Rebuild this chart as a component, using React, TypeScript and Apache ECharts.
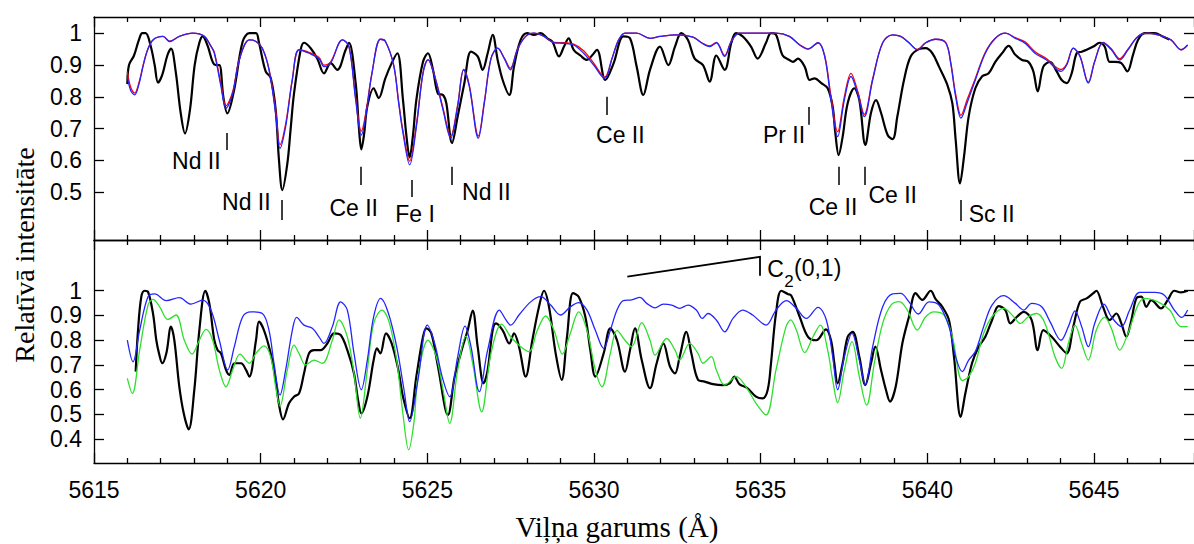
import React, { useEffect, useRef } from "react";
import * as echarts from "echarts";

// ---------- data (wavelength Å, relative intensity) ----------
const topObserved: number[][] = [
  [5616.0,0.84],[5616.05,0.9],[5616.2,0.93],[5616.35,0.98],[5616.45,1.0],[5616.55,1.0],[5616.7,0.96],[5616.82,0.9],[5616.92,0.845],[5617.05,0.87],[5617.2,0.93],[5617.31,0.952],[5617.45,0.88],[5617.6,0.75],[5617.73,0.685],[5617.88,0.76],[5618.02,0.9],[5618.16,0.97],[5618.26,0.99],[5618.41,0.96],[5618.56,0.91],[5618.66,0.9],[5618.76,0.9],[5618.88,0.8],[5619.0,0.748],[5619.2,0.82],[5619.46,0.974],[5619.66,1.0],[5619.86,1.0],[5619.95,0.97],[5620.15,0.88],[5620.3,0.86],[5620.45,0.76],[5620.55,0.6],[5620.65,0.507],[5620.8,0.59],[5620.9,0.7],[5621.0,0.81],[5621.2,0.948],[5621.3,0.97],[5621.5,0.953],[5621.7,0.92],[5621.9,0.874],[5622.1,0.906],[5622.3,0.885],[5622.55,0.948],[5622.65,0.97],[5622.85,0.843],[5622.95,0.7],[5623.02,0.635],[5623.1,0.68],[5623.2,0.77],[5623.39,0.827],[5623.54,0.796],[5623.74,0.858],[5623.93,0.906],[5624.1,0.937],[5624.27,0.79],[5624.37,0.68],[5624.47,0.61],[5624.57,0.68],[5624.67,0.79],[5624.87,0.91],[5625.02,0.937],[5625.17,0.885],[5625.32,0.81],[5625.47,0.806],[5625.57,0.78],[5625.74,0.655],[5625.91,0.738],[5626.11,0.843],[5626.31,0.942],[5626.51,0.927],[5626.66,0.885],[5626.81,0.937],[5626.96,0.995],[5627.11,0.916],[5627.26,0.853],[5627.46,0.806],[5627.6,0.895],[5627.8,0.979],[5628.0,1.0],[5628.2,0.995],[5628.4,1.0],[5628.6,0.984],[5628.75,0.974],[5628.95,0.927],[5629.1,0.958],[5629.24,0.984],[5629.39,0.948],[5629.59,0.93],[5629.79,0.916],[5629.94,0.93],[5630.09,0.948],[5630.34,0.853],[5630.59,0.906],[5630.88,0.99],[5631.08,0.984],[5631.28,0.895],[5631.48,0.806],[5631.68,0.885],[5631.98,0.958],[5632.23,0.9],[5632.43,0.958],[5632.62,1.0],[5632.82,0.979],[5633.02,0.92],[5633.27,0.9],[5633.47,0.848],[5633.67,0.93],[5633.92,0.885],[5634.12,0.97],[5634.26,1.0],[5634.46,0.99],[5634.71,0.958],[5634.91,0.92],[5635.16,0.97],[5635.31,1.0],[5635.46,0.995],[5635.66,0.93],[5635.86,0.916],[5635.97,0.91],[5636.12,0.92],[5636.32,0.895],[5636.47,0.853],[5636.62,0.858],[5636.82,0.843],[5637.01,0.827],[5637.16,0.77],[5637.24,0.686],[5637.34,0.617],[5637.46,0.675],[5637.61,0.78],[5637.81,0.827],[5637.96,0.79],[5638.14,0.649],[5638.31,0.75],[5638.46,0.79],[5638.61,0.75],[5638.81,0.68],[5638.96,0.667],[5639.1,0.738],[5639.3,0.853],[5639.5,0.927],[5639.75,0.95],[5639.95,0.953],[5640.15,0.937],[5640.35,0.895],[5640.6,0.838],[5640.75,0.78],[5640.85,0.665],[5640.98,0.528],[5641.1,0.612],[5641.24,0.738],[5641.44,0.827],[5641.64,0.864],[5641.84,0.874],[5642.04,0.91],[5642.24,0.937],[5642.44,0.96],[5642.64,0.932],[5642.84,0.916],[5643.03,0.91],[5643.18,0.88],[5643.31,0.817],[5643.48,0.895],[5643.68,0.91],[5643.88,0.88],[5644.03,0.853],[5644.18,0.843],[5644.33,0.874],[5644.48,0.937],[5644.63,0.942],[5644.78,0.948],[5644.98,0.958],[5645.17,0.97],[5645.32,0.958],[5645.47,0.91],[5645.62,0.91],[5645.82,0.906],[5646.0,0.88],[5646.17,0.932],[5646.32,0.979],[5646.52,1.0],[5646.82,1.0],[5647.06,0.99],[5647.26,0.98]
];

const topBlue: number[][] = [
  [5616.0,0.864],[5616.1,0.82],[5616.22,0.806],[5616.35,0.84],[5616.47,0.895],[5616.6,0.945],[5616.77,0.979],[5617.07,0.99],[5617.27,0.974],[5617.56,0.99],[5617.96,1.0],[5618.31,0.99],[5618.5,0.96],[5618.61,0.937],[5618.81,0.832],[5618.96,0.764],[5619.16,0.81],[5619.36,0.916],[5619.66,0.979],[5619.86,0.974],[5620.05,0.953],[5620.25,0.885],[5620.45,0.748],[5620.58,0.638],[5620.75,0.707],[5620.95,0.853],[5621.15,0.948],[5621.45,0.937],[5621.75,0.92],[5621.9,0.895],[5622.1,0.906],[5622.45,0.979],[5622.65,0.958],[5622.85,0.79],[5623.02,0.68],[5623.14,0.73],[5623.34,0.874],[5623.59,0.981],[5623.74,0.975],[5623.99,0.9],[5624.14,0.78],[5624.27,0.686],[5624.47,0.586],[5624.67,0.705],[5624.87,0.873],[5625.02,0.916],[5625.22,0.864],[5625.47,0.759],[5625.7,0.67],[5625.91,0.77],[5626.09,0.885],[5626.26,0.832],[5626.53,0.67],[5626.71,0.78],[5626.91,0.92],[5627.11,0.953],[5627.31,0.92],[5627.49,0.885],[5627.7,0.948],[5627.95,0.99],[5628.2,1.0],[5628.5,0.99],[5628.8,0.97],[5629.1,0.968],[5629.39,0.963],[5629.69,0.937],[5629.99,0.9],[5630.32,0.858],[5630.54,0.92],[5630.74,0.979],[5630.93,1.0],[5631.28,1.0],[5631.68,0.984],[5631.98,0.99],[5632.48,0.995],[5632.97,0.988],[5633.22,0.97],[5633.47,0.958],[5633.67,0.97],[5633.92,0.927],[5634.12,0.974],[5634.37,1.0],[5635.46,1.0],[5635.86,0.99],[5636.17,0.963],[5636.42,0.95],[5636.72,0.97],[5636.92,0.927],[5637.11,0.79],[5637.31,0.675],[5637.51,0.79],[5637.71,0.864],[5637.91,0.81],[5638.11,0.738],[5638.36,0.853],[5638.66,0.97],[5638.96,0.995],[5639.2,0.99],[5639.45,0.97],[5639.7,0.948],[5639.95,0.97],[5640.25,0.981],[5640.55,0.97],[5640.7,0.906],[5640.85,0.8],[5641.01,0.733],[5641.19,0.78],[5641.44,0.853],[5641.74,0.937],[5642.04,0.984],[5642.34,1.0],[5642.64,0.984],[5642.94,0.968],[5643.23,0.937],[5643.58,0.916],[5644.01,0.88],[5644.18,0.9],[5644.38,0.953],[5644.58,0.927],[5644.83,0.843],[5645.02,0.91],[5645.27,0.97],[5645.52,0.948],[5645.77,0.916],[5646.02,0.948],[5646.32,0.99],[5646.62,1.0],[5646.92,0.995],[5647.31,0.979],[5647.61,0.948],[5647.81,0.963]
];

const topRed: number[][] = [
  [5616.0,0.88],[5616.1,0.83],[5616.22,0.812],[5616.35,0.845],[5616.47,0.898],[5616.6,0.946],[5616.77,0.979],[5617.07,0.99],[5617.27,0.975],[5617.56,0.99],[5617.96,1.0],[5618.31,0.99],[5618.5,0.961],[5618.61,0.94],[5618.81,0.84],[5618.96,0.772],[5619.16,0.816],[5619.36,0.918],[5619.66,0.979],[5619.86,0.974],[5620.05,0.953],[5620.25,0.888],[5620.45,0.758],[5620.58,0.65],[5620.75,0.715],[5620.95,0.856],[5621.15,0.948],[5621.45,0.94],[5621.75,0.924],[5621.9,0.9],[5622.1,0.91],[5622.45,0.979],[5622.65,0.958],[5622.85,0.797],[5623.02,0.692],[5623.14,0.74],[5623.34,0.876],[5623.59,0.981],[5623.74,0.975],[5623.99,0.9],[5624.14,0.785],[5624.27,0.693],[5624.47,0.598],[5624.67,0.712],[5624.87,0.876],[5625.02,0.917],[5625.22,0.866],[5625.47,0.765],[5625.7,0.677],[5625.91,0.775],[5626.09,0.886],[5626.26,0.836],[5626.53,0.677],[5626.71,0.785],[5626.91,0.921],[5627.11,0.953],[5627.31,0.922],[5627.49,0.89],[5627.7,0.949],[5627.95,0.99],[5628.2,1.0],[5628.5,0.99],[5628.8,0.971],[5629.1,0.97],[5629.39,0.966],[5629.69,0.945],[5629.99,0.906],[5630.32,0.862],[5630.54,0.921],[5630.74,0.979],[5630.93,1.0],[5631.28,1.0],[5631.68,0.984],[5631.98,0.99],[5632.48,0.995],[5632.97,0.988],[5633.22,0.971],[5633.47,0.96],[5633.67,0.971],[5633.92,0.93],[5634.12,0.975],[5634.37,1.0],[5635.46,1.0],[5635.86,0.99],[5636.17,0.964],[5636.42,0.951],[5636.72,0.97],[5636.92,0.93],[5637.11,0.802],[5637.31,0.69],[5637.51,0.8],[5637.71,0.874],[5637.91,0.818],[5638.11,0.745],[5638.36,0.857],[5638.66,0.97],[5638.96,0.995],[5639.2,0.99],[5639.45,0.97],[5639.7,0.949],[5639.95,0.97],[5640.25,0.981],[5640.55,0.971],[5640.7,0.91],[5640.85,0.808],[5641.01,0.742],[5641.19,0.79],[5641.44,0.858],[5641.74,0.94],[5642.04,0.984],[5642.34,1.0],[5642.64,0.986],[5642.94,0.972],[5643.23,0.942],[5643.58,0.92],[5644.01,0.886],[5644.18,0.903],[5644.38,0.953],[5644.58,0.928],[5644.83,0.846],[5645.02,0.912],[5645.27,0.971],[5645.52,0.951],[5645.77,0.92],[5646.02,0.95],[5646.32,0.99],[5646.62,1.0],[5646.92,0.995],[5647.31,0.979],[5647.61,0.948],[5647.81,0.963]
];

const bottomObserved: number[][] = [
  [5616.25,0.673],[5616.32,0.84],[5616.42,0.976],[5616.52,1.0],[5616.62,0.996],[5616.77,0.908],[5616.87,0.8],[5616.95,0.747],[5617.05,0.707],[5617.17,0.747],[5617.31,0.855],[5617.41,0.8],[5617.56,0.612],[5617.7,0.5],[5617.84,0.44],[5618.01,0.6],[5618.16,0.84],[5618.34,1.0],[5618.46,0.949],[5618.61,0.8],[5618.71,0.76],[5618.81,0.747],[5618.96,0.68],[5619.06,0.66],[5619.21,0.707],[5619.41,0.707],[5619.56,0.68],[5619.66,0.653],[5619.86,0.8],[5619.95,0.875],[5620.1,0.84],[5620.3,0.747],[5620.45,0.64],[5620.55,0.54],[5620.67,0.48],[5620.85,0.545],[5621.0,0.572],[5621.15,0.585],[5621.3,0.666],[5621.45,0.747],[5621.6,0.76],[5621.8,0.76],[5622.0,0.787],[5622.2,0.828],[5622.4,0.821],[5622.6,0.76],[5622.8,0.666],[5622.92,0.56],[5623.02,0.505],[5623.2,0.572],[5623.39,0.72],[5623.49,0.767],[5623.59,0.747],[5623.76,0.828],[5623.93,0.787],[5624.13,0.68],[5624.27,0.572],[5624.47,0.485],[5624.67,0.653],[5624.87,0.814],[5624.97,0.848],[5625.12,0.828],[5625.32,0.693],[5625.62,0.498],[5625.82,0.653],[5626.06,0.774],[5626.21,0.84],[5626.36,0.92],[5626.51,0.774],[5626.69,0.626],[5626.81,0.68],[5626.96,0.84],[5627.06,0.868],[5627.26,0.84],[5627.46,0.787],[5627.6,0.828],[5627.75,0.774],[5627.95,0.653],[5628.15,0.8],[5628.35,0.935],[5628.5,1.0],[5628.65,0.935],[5628.85,0.747],[5629.03,0.64],[5629.19,0.814],[5629.37,0.99],[5629.54,0.976],[5629.74,0.895],[5629.89,0.76],[5630.04,0.653],[5630.29,0.747],[5630.49,0.848],[5630.69,0.8],[5630.93,0.673],[5631.08,0.76],[5631.23,0.848],[5631.43,0.721],[5631.68,0.606],[5631.88,0.707],[5632.08,0.787],[5632.28,0.693],[5632.43,0.666],[5632.57,0.733],[5632.77,0.834],[5632.92,0.747],[5633.12,0.64],[5633.32,0.633],[5633.57,0.623],[5633.87,0.619],[5634.07,0.626],[5634.21,0.653],[5634.36,0.623],[5634.61,0.606],[5634.86,0.572],[5635.06,0.565],[5635.21,0.599],[5635.31,0.707],[5635.46,0.909],[5635.62,1.0],[5635.81,0.987],[5635.92,0.98],[5636.17,0.895],[5636.42,0.814],[5636.67,0.8],[5636.96,0.844],[5637.11,0.8],[5637.21,0.707],[5637.31,0.626],[5637.46,0.707],[5637.61,0.814],[5637.76,0.834],[5637.96,0.733],[5638.14,0.619],[5638.31,0.707],[5638.44,0.774],[5638.61,0.68],[5638.76,0.599],[5638.88,0.552],[5639.05,0.612],[5639.25,0.787],[5639.45,0.895],[5639.65,0.99],[5639.85,0.963],[5640.1,1.0],[5640.25,0.966],[5640.45,0.935],[5640.65,0.881],[5640.8,0.733],[5641.0,0.49],[5641.14,0.585],[5641.34,0.707],[5641.54,0.774],[5641.74,0.814],[5641.94,0.881],[5642.14,0.938],[5642.34,0.922],[5642.49,0.868],[5642.69,0.895],[5642.89,0.915],[5643.13,0.881],[5643.31,0.76],[5643.48,0.841],[5643.73,0.814],[5643.98,0.774],[5644.18,0.747],[5644.38,0.855],[5644.58,0.956],[5644.78,0.969],[5644.98,0.99],[5645.07,1.0],[5645.27,0.935],[5645.47,0.881],[5645.67,0.908],[5645.82,0.868],[5645.97,0.814],[5646.12,0.881],[5646.27,0.969],[5646.42,0.976],[5646.57,0.935],[5646.72,0.962],[5647.01,0.929],[5647.21,0.962],[5647.41,1.0],[5647.61,0.993],[5647.81,1.0]
];

const bottomBlue: number[][] = [
  [5616.0,0.8],[5616.17,0.713],[5616.37,0.84],[5616.62,0.976],[5616.82,0.987],[5617.17,0.96],[5617.56,0.972],[5617.91,0.946],[5618.26,0.962],[5618.51,0.922],[5618.76,0.8],[5619.01,0.68],[5619.21,0.774],[5619.46,0.895],[5619.71,0.915],[5620.05,0.908],[5620.25,0.84],[5620.4,0.707],[5620.58,0.579],[5620.75,0.68],[5620.95,0.84],[5621.08,0.892],[5621.3,0.861],[5621.55,0.848],[5621.75,0.814],[5621.9,0.787],[5622.15,0.855],[5622.4,0.955],[5622.6,0.922],[5622.8,0.747],[5623.02,0.6],[5623.2,0.72],[5623.39,0.895],[5623.6,0.969],[5623.83,0.91],[5624.08,0.774],[5624.3,0.6],[5624.47,0.471],[5624.72,0.64],[5625.0,0.861],[5625.22,0.787],[5625.45,0.65],[5625.67,0.572],[5625.91,0.733],[5626.13,0.857],[5626.31,0.774],[5626.56,0.592],[5626.81,0.76],[5627.16,0.922],[5627.36,0.882],[5627.5,0.861],[5627.75,0.902],[5628.1,0.955],[5628.4,0.976],[5628.7,0.942],[5629.0,0.902],[5629.29,0.935],[5629.54,0.952],[5629.79,0.922],[5630.04,0.84],[5630.29,0.767],[5630.49,0.84],[5630.69,0.922],[5630.88,0.96],[5631.13,0.963],[5631.38,0.973],[5631.58,0.949],[5631.83,0.931],[5632.08,0.946],[5632.33,0.942],[5632.57,0.929],[5632.82,0.942],[5633.07,0.922],[5633.25,0.888],[5633.42,0.908],[5633.67,0.882],[5633.92,0.834],[5634.17,0.888],[5634.46,0.922],[5634.76,0.902],[5635.16,0.861],[5635.46,0.922],[5635.77,0.96],[5636.07,0.929],[5636.37,0.888],[5636.72,0.933],[5636.97,0.882],[5637.16,0.734],[5637.31,0.6],[5637.51,0.734],[5637.74,0.828],[5637.96,0.72],[5638.14,0.619],[5638.36,0.774],[5638.66,0.935],[5638.96,0.987],[5639.2,0.989],[5639.45,0.955],[5639.73,0.906],[5640.05,0.955],[5640.35,0.942],[5640.65,0.855],[5640.85,0.733],[5641.05,0.673],[5641.24,0.72],[5641.44,0.754],[5641.69,0.855],[5641.94,0.942],[5642.29,0.98],[5642.64,0.949],[5642.89,0.922],[5643.13,0.949],[5643.43,0.935],[5643.68,0.875],[5644.01,0.8],[5644.23,0.855],[5644.43,0.919],[5644.63,0.855],[5644.83,0.774],[5645.02,0.868],[5645.3,0.946],[5645.52,0.895],[5645.82,0.855],[5646.07,0.922],[5646.37,0.993],[5646.82,0.993],[5647.11,0.982],[5647.41,0.922],[5647.63,0.892],[5647.81,0.922]
];

const bottomGreen: number[][] = [
  [5616.0,0.646],[5616.15,0.585],[5616.37,0.76],[5616.62,0.942],[5616.77,0.965],[5616.97,0.935],[5617.22,0.884],[5617.46,0.902],[5617.71,0.8],[5617.94,0.744],[5618.16,0.8],[5618.36,0.844],[5618.56,0.8],[5618.76,0.68],[5618.96,0.612],[5619.16,0.68],[5619.38,0.744],[5619.66,0.707],[5619.86,0.747],[5620.1,0.777],[5620.3,0.733],[5620.45,0.612],[5620.58,0.534],[5620.8,0.68],[5621.0,0.78],[5621.15,0.747],[5621.35,0.7],[5621.6,0.72],[5621.85,0.707],[5622.15,0.8],[5622.35,0.882],[5622.6,0.814],[5622.8,0.666],[5622.99,0.485],[5623.2,0.68],[5623.39,0.868],[5623.64,0.922],[5623.85,0.875],[5624.08,0.72],[5624.27,0.5],[5624.44,0.357],[5624.6,0.47],[5624.72,0.653],[5625.02,0.8],[5625.27,0.733],[5625.47,0.6],[5625.67,0.464],[5625.91,0.68],[5626.16,0.817],[5626.36,0.707],[5626.63,0.511],[5626.91,0.747],[5627.23,0.865],[5627.5,0.814],[5627.8,0.774],[5628.05,0.754],[5628.3,0.84],[5628.55,0.898],[5628.8,0.84],[5629.05,0.744],[5629.29,0.828],[5629.54,0.915],[5629.79,0.84],[5630.04,0.68],[5630.24,0.612],[5630.49,0.747],[5630.69,0.84],[5630.93,0.8],[5631.13,0.774],[5631.43,0.871],[5631.68,0.8],[5631.83,0.74],[5632.18,0.807],[5632.43,0.76],[5632.57,0.72],[5632.87,0.787],[5633.12,0.747],[5633.27,0.707],[5633.52,0.734],[5633.67,0.68],[5633.92,0.619],[5634.27,0.653],[5634.56,0.612],[5634.86,0.545],[5635.16,0.498],[5635.46,0.68],[5635.76,0.855],[5635.9,0.882],[5636.07,0.841],[5636.32,0.75],[5636.57,0.814],[5636.79,0.861],[5637.01,0.76],[5637.16,0.64],[5637.31,0.548],[5637.51,0.68],[5637.74,0.794],[5637.96,0.653],[5638.18,0.538],[5638.41,0.707],[5638.66,0.868],[5638.91,0.942],[5639.16,0.956],[5639.4,0.922],[5639.7,0.841],[5639.95,0.895],[5640.2,0.915],[5640.5,0.902],[5640.75,0.814],[5641.05,0.637],[5641.24,0.653],[5641.44,0.707],[5641.69,0.828],[5641.94,0.895],[5642.29,0.929],[5642.59,0.895],[5642.79,0.868],[5643.03,0.895],[5643.28,0.908],[5643.53,0.868],[5643.83,0.733],[5644.03,0.686],[5644.23,0.787],[5644.43,0.861],[5644.63,0.787],[5644.83,0.72],[5645.07,0.841],[5645.32,0.892],[5645.52,0.848],[5645.77,0.76],[5646.02,0.828],[5646.32,0.942],[5646.52,0.969],[5646.92,0.955],[5647.27,0.922],[5647.61,0.855],[5647.81,0.855]
];

// line identifications: label text and its centre (wavelength, intensity)
const lineLabels: string[] = ["Nd II", "Nd II", "Ce II", "Fe I", "Nd II", "Ce II", "Pr II", "Ce II", "Ce II", "Sc II"];
const lineLabelPos: number[][] = [
  [5618.07, 0.599], [5619.57, 0.468], [5622.79, 0.452], [5624.63, 0.432], [5626.77, 0.502],
  [5630.79, 0.68], [5635.70, 0.68], [5637.17, 0.455], [5638.96, 0.493], [5641.93, 0.433]
];
// tick marks: wavelength, top intensity, bottom intensity
const lineMarks: number[][] = [
  [5618.99, 0.686, 0.633], [5620.62, 0.476, 0.413], [5623.01, 0.58, 0.523], [5624.53, 0.539, 0.485],
  [5625.74, 0.58, 0.523], [5630.37, 0.8, 0.743], [5636.44, 0.768, 0.712], [5637.35, 0.58, 0.523],
  [5638.11, 0.58, 0.523], [5641.01, 0.476, 0.41]
];
// C2(0,1) band bracket
const bandBracket: number[][] = [[5631.0, 1.057], [5634.98, 1.137], [5634.98, 1.061]];
// C2(0,1) label pieces: text, left wavelength, intensity, font size
const bandLabelText: string[] = ["C", "2", "(0,1)"];
const bandLabelPos: number[][] = [[5635.2, 1.088], [5635.71, 1.039], [5636.0, 1.09]];
const bandLabelSize: number[] = [23, 17, 23];

const xTickLabels = [5615, 5620, 5625, 5630, 5635, 5640, 5645];
const topYTicks = [0.5, 0.6, 0.7, 0.8, 0.9, 1.0];
const bottomYTicks = [0.4, 0.5, 0.6, 0.7, 0.8, 0.9, 1.0];

const SANS = '"Liberation Sans", Arial, Helvetica, sans-serif';
const SERIF = '"Liberation Serif", "Times New Roman", serif';

function xAxisDef(gridIndex: number, position: string, labels: boolean) {
  return {
    type: "value",
    gridIndex,
    position,
    min: 5615,
    max: 5648,
    interval: 5,
    axisLine: { show: true, onZero: false, lineStyle: { color: "#000", width: 1.3 } },
    axisTick: { show: true, inside: true, length: 10, lineStyle: { color: "#000", width: 1.3 } },
    minorTick: { show: true, splitNumber: 5, length: 5, lineStyle: { color: "#000", width: 1.3 } },
    splitLine: { show: false },
    minorSplitLine: { show: false },
    axisLabel: labels
      ? {
          show: true,
          customValues: xTickLabels,
          fontSize: 23,
          fontFamily: SANS,
          color: "#000",
          margin: 15,
          formatter: (v: number) => String(Math.round(v)),
        }
      : { show: false },
  };
}

function yAxisDef(gridIndex: number, position: string, min: number, max: number, ticks: number[], labels: boolean) {
  return {
    type: "value",
    gridIndex,
    position,
    min,
    max,
    axisLine: { show: position === "left", onZero: false, lineStyle: { color: "#000", width: 1.3 } },
    axisTick: { show: true, inside: true, length: 10, customValues: ticks, lineStyle: { color: "#000", width: 1.3 } },
    splitLine: { show: false },
    axisLabel: labels
      ? {
          show: true,
          customValues: ticks,
          fontSize: 23,
          fontFamily: SANS,
          color: "#000",
          margin: 12,
          formatter: (v: number) => String(Math.round(v * 10) / 10),
        }
      : { show: false },
  };
}

function lineSeries(data: number[][], color: string, width: number, xi: number, yi: number, z: number) {
  return {
    type: "line",
    data,
    xAxisIndex: xi,
    yAxisIndex: yi,
    showSymbol: false,
    symbol: "none",
    smooth: 0.35,
    lineStyle: { color, width },
    z,
    silent: true,
  };
}

const textLabelStyle = {
  show: true,
  position: "inside",
  formatter: (p: any) => p.name,
  fontFamily: SANS,
  color: "#000",
  opacity: 1,
  textBorderWidth: 0,
  textBorderColor: "transparent",
  textShadowBlur: 0,
};

export default function App() {
  const ref = useRef<HTMLDivElement>(null);

  useEffect(() => {
    if (!ref.current) return;
    const chart = echarts.init(ref.current, null, { renderer: "svg" });

    const labelData = lineLabels.map((name, i) => ({ name, value: lineLabelPos[i] }));
    const markData = lineMarks.map((m) => ({ coords: [[m[0], m[1]], [m[0], m[2]]] }));
    const bandData = bandLabelText.map((name, i) => ({
      name,
      value: bandLabelPos[i],
      label: { fontSize: bandLabelSize[i] },
    }));

    chart.setOption({
      animation: false,
      backgroundColor: "#fff",
      grid: [
        { left: 94, top: 17, width: 1104, height: 223 },
        { left: 94, top: 240, width: 1104, height: 223 },
      ],
      xAxis: [
        xAxisDef(0, "bottom", false),
        xAxisDef(0, "top", false),
        xAxisDef(1, "bottom", true),
        xAxisDef(1, "top", false),
      ],
      yAxis: [
        yAxisDef(0, "left", 0.35, 1.051, topYTicks, true),
        yAxisDef(0, "right", 0.35, 1.051, topYTicks, false),
        yAxisDef(1, "left", 0.304, 1.205, bottomYTicks, true),
        yAxisDef(1, "right", 0.304, 1.205, bottomYTicks, false),
      ],
      graphic: [
        {
          type: "text",
          x: 24,
          y: 255,
          rotation: Math.PI / 2,
          style: {
            text: "Relatīvā intensitāte",
            font: `28px ${SERIF}`,
            fill: "#000",
            textAlign: "center",
            textVerticalAlign: "middle",
          },
        },
        {
          type: "text",
          x: 617,
          y: 527,
          style: {
            text: "Viļņa garums (Å)",
            font: `29px ${SERIF}`,
            fill: "#000",
            textAlign: "center",
            textVerticalAlign: "middle",
          },
        },
      ],
      series: [
        lineSeries(topObserved, "#000", 2.2, 0, 0, 2),
        lineSeries(topRed, "#ff0000", 1.3, 0, 0, 3),
        lineSeries(topBlue, "#2424ff", 1.3, 0, 0, 4),
        lineSeries(bottomObserved, "#000", 2.2, 2, 2, 2),
        lineSeries(bottomGreen, "#2ee02e", 1.3, 2, 2, 3),
        lineSeries(bottomBlue, "#2424ff", 1.3, 2, 2, 4),
        {
          type: "lines",
          coordinateSystem: "cartesian2d",
          xAxisIndex: 0,
          yAxisIndex: 0,
          data: markData,
          lineStyle: { color: "#000", width: 1.5, opacity: 1 },
          silent: true,
          z: 5,
        },
        {
          type: "lines",
          coordinateSystem: "cartesian2d",
          xAxisIndex: 2,
          yAxisIndex: 2,
          polyline: true,
          data: [{ coords: bandBracket }],
          lineStyle: { color: "#000", width: 1.8, opacity: 1 },
          silent: true,
          z: 5,
        },
        {
          type: "scatter",
          xAxisIndex: 0,
          yAxisIndex: 0,
          symbolSize: 0,
          data: labelData,
          silent: true,
          z: 6,
          itemStyle: { color: "#000", opacity: 1 },
          label: { ...textLabelStyle, fontSize: 23 },
        },
        {
          type: "scatter",
          xAxisIndex: 2,
          yAxisIndex: 2,
          symbolSize: 0,
          silent: true,
          z: 6,
          data: bandData,
          itemStyle: { color: "#000", opacity: 1 },
          label: { ...textLabelStyle, align: "left" },
        },
      ],
    });

    return () => chart.dispose();
  }, []);

  return (
    <div
      ref={ref}
      style={{ position: "absolute", left: 0, top: 0, width: 1194, height: 544, background: "#fff" }}
    />
  );
}
